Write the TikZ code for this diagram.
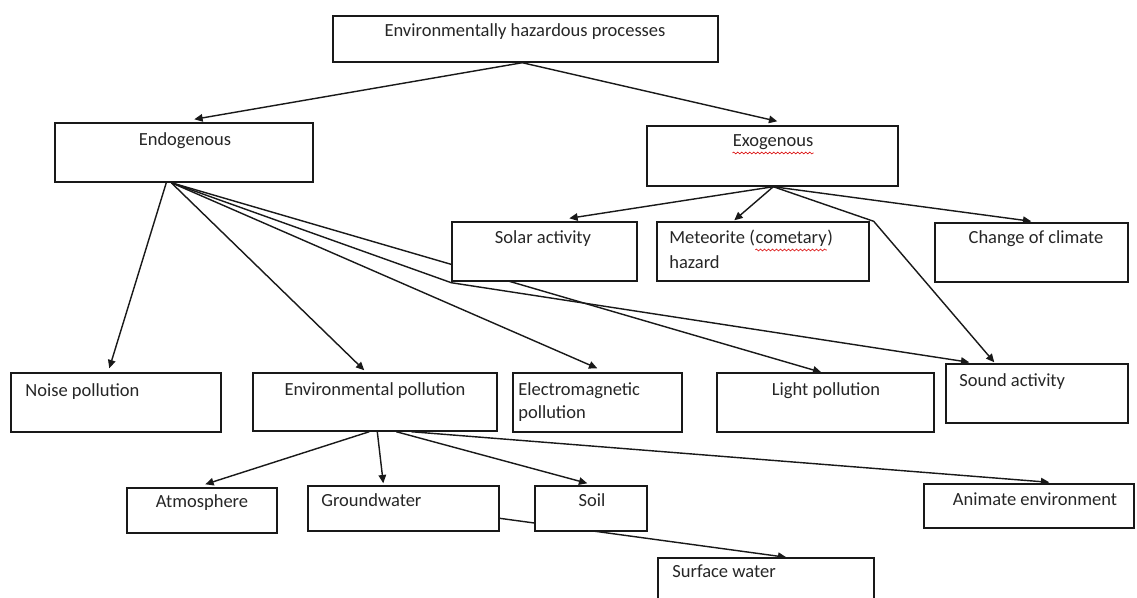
\documentclass[tikz,border=0pt]{standalone}
\usepackage{fontspec}
\setmainfont{Carlito}
\usetikzlibrary{arrows.meta,fit,calc,backgrounds,decorations.pathmorphing}
\begin{document}
\begin{tikzpicture}[x=0.6pt,y=-0.6pt,
  box/.style={draw=black!90, line width=0.85pt, fill=white, inner sep=0pt},
  txt/.style={inner sep=0pt, font=\fontsize{11.1}{14}\selectfont, text=black!85},
  conn/.style={draw=black!90, line width=0.85pt},
  arr/.style={conn, -{Triangle[length=5pt,width=4.5pt]}},
  squig/.style={draw=red!85!black, line width=0.35pt, decorate, decoration={snake, amplitude=0.55pt, segment length=2.4pt}}]
\useasboundingbox (0,0) rectangle (1137,597);
\clip (0,0) rectangle (1137,597);
% boxes
\node[box, fit={(333,16)(718,62)}] (top) {};
\node[box, fit={(55,123)(313,182)}] (endo) {};
\node[box, fit={(647,126)(898,186)}] (exo) {};
\node[box, fit={(452,222)(637,281)}] (solar) {};
\node[box, fit={(657,222)(869,281)}] (meteor) {};
\node[box, fit={(935,223)(1128,282)}] (climate) {};
\node[box, fit={(11,373)(221,432)}] (noise) {};
\node[box, fit={(253,373)(497,431)}] (envp) {};
\node[box, fit={(513,373)(682,432)}] (electro) {};
\node[box, fit={(717,373)(934,432)}] (light) {};
\node[box, fit={(946,364)(1128,423)}] (sound) {};
\node[box, fit={(127,488)(277,533)}] (atmos) {};
\node[box, fit={(308,486)(499,531)}] (ground) {};
\node[box, fit={(535,486)(647,531)}] (soil) {};
\node[box, fit={(924,484)(1134,528)}] (animate) {};
\node[box, fit={(658,558)(874,610)}] (surface) {};
% texts
\node[txt, anchor=mid] (ttop) at (525,33) {Environmentally hazardous processes};
\node[txt, anchor=mid] (tendo) at (185,142) {Endogenous};
\node[txt, anchor=mid] (texo) at (773,143) {Exogenous};
\node[txt, anchor=mid] (tsolar) at (543,240) {Solar activity};
\node[txt, anchor=mid west] (tmet1) at (669,240) {Meteorite (};
\node[txt, anchor=base west] (tmetc) at (tmet1.base east) {cometary};
\node[txt, anchor=base west] (tmetp) at (tmetc.base east) {)};
\node[txt, anchor=mid west] (tmet2) at (669,265) {hazard};
\node[txt, anchor=mid] (tclim) at (1036,240) {Change of climate};
\node[txt, anchor=mid west] (tnoise) at (25,393) {Noise pollution};
\node[txt, anchor=mid] (tenvp) at (375,392) {Environmental pollution};
\node[txt, anchor=mid west] (tel1) at (518,392) {Electromagnetic};
\node[txt, anchor=mid west] (tel2) at (518,415) {pollution};
\node[txt, anchor=mid] (tlight) at (826,392) {Light pollution};
\node[txt, anchor=mid west] (tsound) at (959,383) {Sound activity};
\node[txt, anchor=mid] (tatm) at (202,504) {Atmosphere};
\node[txt, anchor=mid west] (tground) at (321,503) {Groundwater};
\node[txt, anchor=mid] (tsoil) at (592,503) {Soil};
\node[txt, anchor=mid] (tanim) at (1035,502) {Animate environment};
\node[txt, anchor=mid west] (tsurf) at (672,574) {Surface water};
% spell-check squiggles
\draw[squig] ($(texo.base west)+(0,6)$) -- ($(texo.base east)+(0,6)$);
\draw[squig] ($(tmetc.base west)+(0,6)$) -- ($(tmetc.base east)+(0,6)$);
% connectors
\begin{pgfonlayer}{background}
\draw[arr] ($(top.south west)+(190,0)$) -- ($(endo.north west)+(140,-3)$);
\draw[arr] ($(top.south west)+(190,0)$) -- ($(exo.north west)+(131,-4)$);
\draw[arr] ($(endo.south west)+(112,0)$) -- ($(noise.north west)+(99,-4)$);
\draw[arr] ($(endo.south west)+(117,0)$) -- ($(envp.north west)+(112,-2)$);
\draw[arr] ($(endo.south west)+(117,0)$) -- ($(electro.north west)+(85,-4)$);
\draw[arr] ($(endo.south west)+(117,0)$) -- ($(light.north west)+(105,0)$);
\draw[arr] ($(endo.south west)+(117,0)$) -- ($(solar.south west)+(0,1)$) -- ($(sound.north west)+(24,-1)$);
\draw[arr] ($(exo.south west)+(127,0)$) -- ($(solar.north west)+(118,-3)$);
\draw[arr] ($(exo.south west)+(127,0)$) -- ($(meteor.north west)+(78,-1)$);
\draw[arr] ($(exo.south west)+(127,0)$) -- ($(climate.north west)+(97,-1)$);
\draw[arr] ($(exo.south west)+(127,0)$) -- ($(meteor.north east)+(4,0)$) -- ($(sound.north west)+(49,-1)$);
\draw[arr] ($(envp.south west)+(117,0)$) -- ($(atmos.north west)+(79,-3)$);
\draw[arr] ($(envp.south west)+(125,0)$) -- ($(ground.north west)+(76,-2)$);
\draw[arr] ($(envp.south west)+(144,0)$) -- ($(soil.north west)+(53,-2)$);
\draw[arr] ($(envp.south west)+(159,0)$) -- ($(animate.north west)+(126,-1)$);
\draw[arr] ($(ground.north east)+(0,33)$) -- ($(surface.north west)+(129,0)$);
\end{pgfonlayer}
\end{tikzpicture}
\end{document}
